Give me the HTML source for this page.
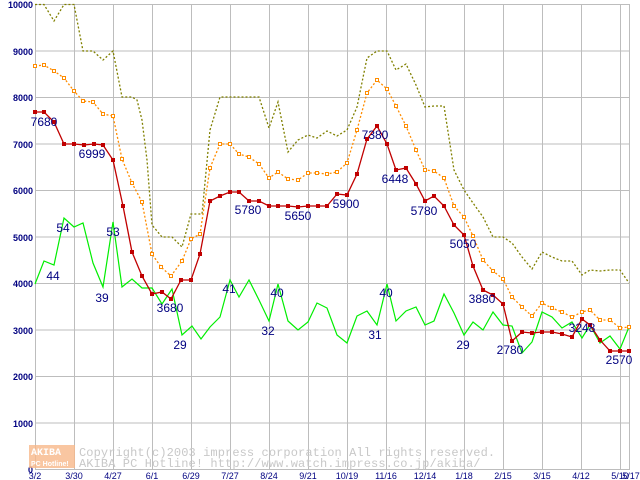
<!DOCTYPE html><html><head><style>body{margin:0;background:#fff}svg{display:block}</style></head><body>
<svg width="640" height="480" xmlns="http://www.w3.org/2000/svg" font-family="Liberation Sans, sans-serif">
<rect width="640" height="480" fill="#fff"/>
<g stroke="#bdbdbd" stroke-width="1">
<line x1="35" y1="4.5" x2="630" y2="4.5"/><line x1="35" y1="51" x2="630" y2="51"/><line x1="35" y1="97.5" x2="630" y2="97.5"/><line x1="35" y1="144" x2="630" y2="144"/><line x1="35" y1="190.5" x2="630" y2="190.5"/><line x1="35" y1="237" x2="630" y2="237"/><line x1="35" y1="283.5" x2="630" y2="283.5"/><line x1="35" y1="330" x2="630" y2="330"/><line x1="35" y1="376.5" x2="630" y2="376.5"/><line x1="35" y1="423" x2="630" y2="423"/><line x1="35" y1="469.5" x2="630" y2="469.5"/>
<line x1="35.5" y1="4" x2="35.5" y2="470"/><line x1="74.5" y1="4" x2="74.5" y2="470"/><line x1="113.5" y1="4" x2="113.5" y2="470"/><line x1="152.5" y1="4" x2="152.5" y2="470"/><line x1="191.5" y1="4" x2="191.5" y2="470"/><line x1="230.5" y1="4" x2="230.5" y2="470"/><line x1="269.5" y1="4" x2="269.5" y2="470"/><line x1="308.5" y1="4" x2="308.5" y2="470"/><line x1="347.5" y1="4" x2="347.5" y2="470"/><line x1="386.5" y1="4" x2="386.5" y2="470"/><line x1="425.5" y1="4" x2="425.5" y2="470"/><line x1="464.5" y1="4" x2="464.5" y2="470"/><line x1="503.5" y1="4" x2="503.5" y2="470"/><line x1="542.5" y1="4" x2="542.5" y2="470"/><line x1="581.5" y1="4" x2="581.5" y2="470"/><line x1="620.5" y1="4" x2="620.5" y2="470"/><line x1="629.5" y1="4" x2="629.5" y2="470"/>
</g>
<g fill="#000080" font-size="9" font-weight="bold" text-anchor="end">
<text x="33" y="8">10000</text><text x="33" y="55">9000</text><text x="33" y="101">8000</text><text x="33" y="148">7000</text><text x="33" y="194">6000</text><text x="33" y="241">5000</text><text x="33" y="287">4000</text><text x="33" y="334">3000</text><text x="33" y="380">2000</text><text x="33" y="427">1000</text><text x="33" y="473">0</text>
</g>
<g fill="#000080" font-size="9" text-anchor="middle">
<text x="35" y="479">3/2</text><text x="74" y="479">3/30</text><text x="113" y="479">4/27</text><text x="152" y="479">6/1</text><text x="191" y="479">6/29</text><text x="230" y="479">7/27</text><text x="269" y="479">8/24</text><text x="308" y="479">9/21</text><text x="347" y="479">10/19</text><text x="386" y="479">11/16</text><text x="425" y="479">12/14</text><text x="464" y="479">1/18</text><text x="503" y="479">2/15</text><text x="542" y="479">3/15</text><text x="581" y="479">4/12</text><text x="620" y="479">5/10</text><text x="631" y="479">5/17</text>
</g>
<rect x="29" y="445" width="46" height="23" fill="#f8b889" opacity="0.8"/>
<text x="31" y="455" font-size="10" fill="#fff" font-weight="bold" font-family="Liberation Mono, monospace">AKIBA</text>
<text x="31" y="466" font-size="7" fill="#fff" font-weight="bold">PC Hotline!</text>
<g fill="#c8c8c8" font-size="12" font-family="Liberation Mono, monospace" letter-spacing="0.1">
<text x="79" y="456">Copyright(c)2003 impress corporation All rights reserved.</text>
<text x="79" y="467">AKIBA PC Hotline!  http://www.watch.impress.co.jp/akiba/</text>
</g>
<polyline fill="none" stroke="#808000" stroke-width="1.3" stroke-dasharray="2,2" points="35,4.5 44,4.5 54,21 64,4.5 74,4.5 83,51 93,51 103,60 113,51 122,97 132,97 137,100 142,120 147,160 152,225 162,237 172,237 182,247 191,214 202,214 210,130 220,97 230,97 239,97 249,97 259,97 269,128 278,102 288,152 298,140 308,135 317,138 327,131 337,136 347,130 357,107 367,58 377,51 387,51 396,70 406,64 416,85 425,107 434,106 444,106 454,170 464,190 473,203 483,217 493,237 503,237 512,243 522,257 532,269 542,252 552,257 562,261 572,261 582,275 590,270 600,271 610,270 620,270 629,283"/>
<polyline fill="none" stroke="#ff8c00" stroke-width="1.3" stroke-dasharray="2,2" points="35,66 44,65 54,71 64,78 74,91 83,101 93,102 103,114 113,116 122,159 132,183 142,202 152,254 161,267 171,276 182,261 191,239 200,234 210,168 220,144 230,144 239,154 249,157 259,164 269,178 278,172 288,179 298,180 308,173 317,173 327,174 337,172 347,163 357,130 367,93 377,80 387,89 396,106 406,126 416,150 425,170 434,171 444,178 454,206 464,217 473,236 483,260 493,271 503,279 512,297 522,307 532,316 542,303 552,308 562,312 572,317 582,312 590,310 600,320 610,320 620,328 629,327"/>
<polyline fill="none" stroke="#00ee00" stroke-width="1.2" points="35,284 44,261 54,265 64,218 74,227 83,223 93,263 103,287 113,222 122,287 132,279 142,288 152,288 162,304 172,289 182,335 192,326 201,339 210,327 220,317 230,280 239,297 249,280 259,300 269,321 278,284 288,321 298,330 308,322 317,303 327,308 337,335 347,343 357,316 367,311 377,325 387,284 396,321 406,311 416,307 425,325 434,321 444,294 454,313 464,335 473,322 483,330 493,312 503,325 512,326 522,353 532,342 542,312 552,317 562,328 572,322 582,338 590,325 600,343 610,336 620,349 629,327"/>
<polyline fill="none" stroke="#c00000" stroke-width="1.3" points="35,112 44,112 54,122 64,144 74,144 84,145 94,144 103,145 113,160 123,206 132,252 142,276 152,294 162,292 171,299 181,280 191,280 200,254 210,201 220,196 230,192 239,192 249,201 259,201 269,206 278,206 288,206 298,207 308,206 318,206 327,206 337,194 347,195 357,174 367,139 377,126 387,144 396,170 406,168 416,184 425,201 434,196 444,206 454,225 464,235 473,266 483,290 493,295 503,304 512,341 522,332 532,333 542,332 552,332 562,334 572,337 582,319 590,325 600,340 610,351 620,351 629,351"/>
<g fill="#fff" stroke="#ff8c00" stroke-width="1">
<rect x="33.5" y="64.5" width="3" height="3"/><rect x="42.5" y="63.5" width="3" height="3"/><rect x="52.5" y="69.5" width="3" height="3"/><rect x="62.5" y="76.5" width="3" height="3"/><rect x="72.5" y="89.5" width="3" height="3"/><rect x="81.5" y="99.5" width="3" height="3"/><rect x="91.5" y="100.5" width="3" height="3"/><rect x="101.5" y="112.5" width="3" height="3"/><rect x="111.5" y="114.5" width="3" height="3"/><rect x="120.5" y="157.5" width="3" height="3"/><rect x="130.5" y="181.5" width="3" height="3"/><rect x="140.5" y="200.5" width="3" height="3"/><rect x="150.5" y="252.5" width="3" height="3"/><rect x="159.5" y="265.5" width="3" height="3"/><rect x="169.5" y="274.5" width="3" height="3"/><rect x="180.5" y="259.5" width="3" height="3"/><rect x="189.5" y="237.5" width="3" height="3"/><rect x="198.5" y="232.5" width="3" height="3"/><rect x="208.5" y="166.5" width="3" height="3"/><rect x="218.5" y="142.5" width="3" height="3"/><rect x="228.5" y="142.5" width="3" height="3"/><rect x="237.5" y="152.5" width="3" height="3"/><rect x="247.5" y="155.5" width="3" height="3"/><rect x="257.5" y="162.5" width="3" height="3"/><rect x="267.5" y="176.5" width="3" height="3"/><rect x="276.5" y="170.5" width="3" height="3"/><rect x="286.5" y="177.5" width="3" height="3"/><rect x="296.5" y="178.5" width="3" height="3"/><rect x="306.5" y="171.5" width="3" height="3"/><rect x="315.5" y="171.5" width="3" height="3"/><rect x="325.5" y="172.5" width="3" height="3"/><rect x="335.5" y="170.5" width="3" height="3"/><rect x="345.5" y="161.5" width="3" height="3"/><rect x="355.5" y="128.5" width="3" height="3"/><rect x="365.5" y="91.5" width="3" height="3"/><rect x="375.5" y="78.5" width="3" height="3"/><rect x="385.5" y="87.5" width="3" height="3"/><rect x="394.5" y="104.5" width="3" height="3"/><rect x="404.5" y="124.5" width="3" height="3"/><rect x="414.5" y="148.5" width="3" height="3"/><rect x="423.5" y="168.5" width="3" height="3"/><rect x="432.5" y="169.5" width="3" height="3"/><rect x="442.5" y="176.5" width="3" height="3"/><rect x="452.5" y="204.5" width="3" height="3"/><rect x="462.5" y="215.5" width="3" height="3"/><rect x="471.5" y="234.5" width="3" height="3"/><rect x="481.5" y="258.5" width="3" height="3"/><rect x="491.5" y="269.5" width="3" height="3"/><rect x="501.5" y="277.5" width="3" height="3"/><rect x="510.5" y="295.5" width="3" height="3"/><rect x="520.5" y="305.5" width="3" height="3"/><rect x="530.5" y="314.5" width="3" height="3"/><rect x="540.5" y="301.5" width="3" height="3"/><rect x="550.5" y="306.5" width="3" height="3"/><rect x="560.5" y="310.5" width="3" height="3"/><rect x="570.5" y="315.5" width="3" height="3"/><rect x="580.5" y="310.5" width="3" height="3"/><rect x="588.5" y="308.5" width="3" height="3"/><rect x="598.5" y="318.5" width="3" height="3"/><rect x="608.5" y="318.5" width="3" height="3"/><rect x="618.5" y="326.5" width="3" height="3"/><rect x="627.5" y="325.5" width="3" height="3"/>
</g>
<g fill="#c00000">
<rect x="33" y="110" width="4" height="4"/><rect x="42" y="110" width="4" height="4"/><rect x="52" y="120" width="4" height="4"/><rect x="62" y="142" width="4" height="4"/><rect x="72" y="142" width="4" height="4"/><rect x="82" y="143" width="4" height="4"/><rect x="92" y="142" width="4" height="4"/><rect x="101" y="143" width="4" height="4"/><rect x="111" y="158" width="4" height="4"/><rect x="121" y="204" width="4" height="4"/><rect x="130" y="250" width="4" height="4"/><rect x="140" y="274" width="4" height="4"/><rect x="150" y="292" width="4" height="4"/><rect x="160" y="290" width="4" height="4"/><rect x="169" y="297" width="4" height="4"/><rect x="179" y="278" width="4" height="4"/><rect x="189" y="278" width="4" height="4"/><rect x="198" y="252" width="4" height="4"/><rect x="208" y="199" width="4" height="4"/><rect x="218" y="194" width="4" height="4"/><rect x="228" y="190" width="4" height="4"/><rect x="237" y="190" width="4" height="4"/><rect x="247" y="199" width="4" height="4"/><rect x="257" y="199" width="4" height="4"/><rect x="267" y="204" width="4" height="4"/><rect x="276" y="204" width="4" height="4"/><rect x="286" y="204" width="4" height="4"/><rect x="296" y="205" width="4" height="4"/><rect x="306" y="204" width="4" height="4"/><rect x="316" y="204" width="4" height="4"/><rect x="325" y="204" width="4" height="4"/><rect x="335" y="192" width="4" height="4"/><rect x="345" y="193" width="4" height="4"/><rect x="355" y="172" width="4" height="4"/><rect x="365" y="137" width="4" height="4"/><rect x="375" y="124" width="4" height="4"/><rect x="385" y="142" width="4" height="4"/><rect x="394" y="168" width="4" height="4"/><rect x="404" y="166" width="4" height="4"/><rect x="414" y="182" width="4" height="4"/><rect x="423" y="199" width="4" height="4"/><rect x="432" y="194" width="4" height="4"/><rect x="442" y="204" width="4" height="4"/><rect x="452" y="223" width="4" height="4"/><rect x="462" y="233" width="4" height="4"/><rect x="471" y="264" width="4" height="4"/><rect x="481" y="288" width="4" height="4"/><rect x="491" y="293" width="4" height="4"/><rect x="501" y="302" width="4" height="4"/><rect x="510" y="339" width="4" height="4"/><rect x="520" y="330" width="4" height="4"/><rect x="530" y="331" width="4" height="4"/><rect x="540" y="330" width="4" height="4"/><rect x="550" y="330" width="4" height="4"/><rect x="560" y="332" width="4" height="4"/><rect x="570" y="335" width="4" height="4"/><rect x="580" y="317" width="4" height="4"/><rect x="588" y="323" width="4" height="4"/><rect x="598" y="338" width="4" height="4"/><rect x="608" y="349" width="4" height="4"/><rect x="618" y="349" width="4" height="4"/><rect x="627" y="349" width="4" height="4"/>
</g>
<g fill="#000080" font-size="12" text-anchor="middle">
<text x="44" y="126">7680</text><text x="92" y="158">6999</text><text x="63" y="232">54</text><text x="53" y="280">44</text><text x="102" y="302">39</text><text x="113" y="236">53</text><text x="170" y="312">3680</text><text x="180" y="349">29</text><text x="229" y="293">41</text><text x="248" y="214">5780</text><text x="298" y="220">5650</text><text x="268" y="335">32</text><text x="277" y="297">40</text><text x="346" y="208">5900</text><text x="375" y="139">7380</text><text x="395" y="183">6448</text><text x="375" y="339">31</text><text x="386" y="297">40</text><text x="424" y="215">5780</text><text x="463" y="248">5050</text><text x="463" y="349">29</text><text x="482" y="303">3880</text><text x="510" y="354">2780</text><text x="582" y="332">3248</text><text x="619" y="364">2570</text>
</g>
</svg>
</body></html>
